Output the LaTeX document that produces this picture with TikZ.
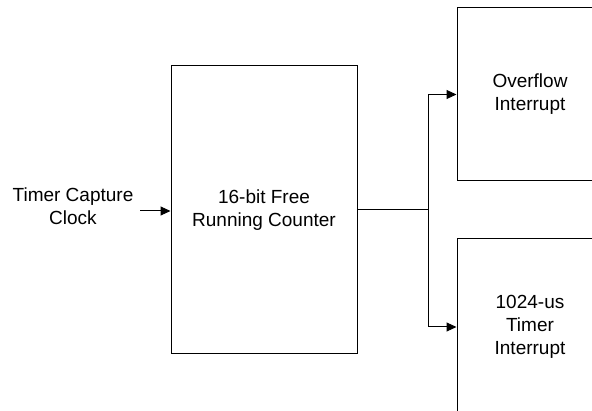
\documentclass[tikz,border=0pt]{standalone}
\usepackage{fontspec}
\setmainfont{Liberation Sans}
\usetikzlibrary{arrows.meta}
\begin{document}
\begin{tikzpicture}[x=1pt,y=-1pt, line width=1pt,
  txt/.style={align=center, font=\fontsize{19}{23}\selectfont},
  box/.style={txt, draw, line width=1pt, inner sep=0pt},
  arr/.style={-{Triangle[length=10pt,width=9pt]}}]
\useasboundingbox (0,0) rectangle (592,411);
\clip (0,0) rectangle (592,411);
\node[box, minimum width=186pt, minimum height=288pt] (cnt) at (264,210) {16-bit Free\\Running Counter};
\node[box, minimum width=146pt, minimum height=173pt] (ovf) at (530,94.5) {Overflow\\Interrupt};
\node[box, minimum width=146pt, minimum height=176pt] (tmr) at (530,327) {1024-us\\Timer\\Interrupt};
\node[txt] (clk) at (73,206) {Timer Capture\\Clock};
\coordinate (in) at (140,211);
\draw[arr] (in) -- (in -| cnt.west);
\coordinate (j) at (428,210);
\draw (cnt.east) -- (j);
\draw[arr] (j) |- (ovf.west);
\draw[arr] (j) |- (tmr.west);
\end{tikzpicture}
\end{document}
